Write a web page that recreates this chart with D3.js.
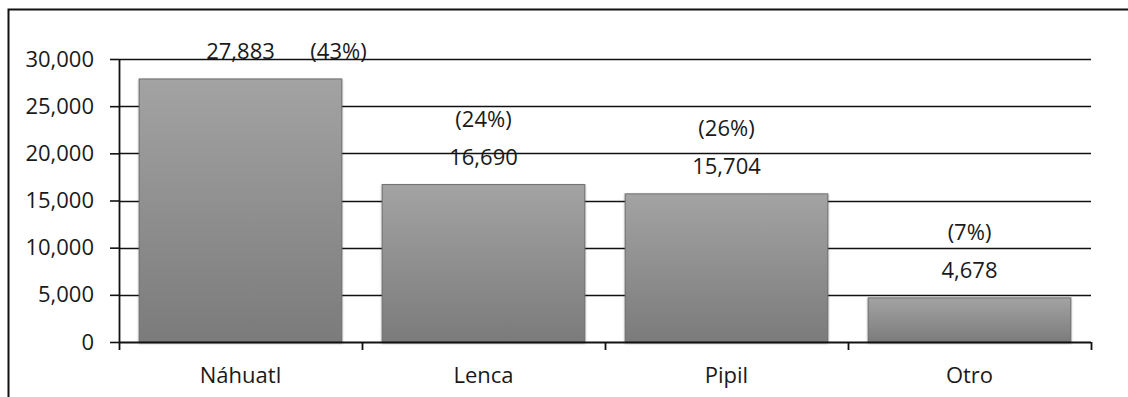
<!DOCTYPE html>
<html>
<head>
<meta charset="utf-8">
<script src="https://cdn.jsdelivr.net/npm/d3@7"></script>
<style>
  html, body { margin: 0; padding: 0; background: #fff; }
  svg { display: block; }
  text { font-family: "Open Sans", "Liberation Sans", sans-serif; fill: #1a1a1a; }
</style>
</head>
<body>
<svg id="chart" width="1128" height="397"></svg>
<script>
// Hablantes por lengua indígena
const categories = ["Náhuatl", "Lenca", "Pipil", "Otro"];
const values = [27883, 16690, 15704, 4678];
const percents = ["(43%)", "(24%)", "(26%)", "(7%)"];
const yTicks = [0, 5000, 10000, 15000, 20000, 25000, 30000];

const svg = d3.select("#chart");
const W = 1128, H = 397;
const m = { left: 119, right: 1091, top: 59, bottom: 342 };

// outer frame: left and top edges
svg.append("path")
  .attr("d", `M8.5,${H} L8.5,9.5 L${W},9.5`)
  .attr("fill", "none").attr("stroke", "#111").attr("stroke-width", 2);

const x = d3.scaleBand().domain(categories).range([m.left, m.right])
  .paddingInner(0.166).paddingOuter(0.083);
const y = d3.scaleLinear().domain([0, 30000]).range([m.bottom, m.top]);

const defs = svg.append("defs");
const grad = defs.append("linearGradient").attr("id", "barFill")
  .attr("x1", 0).attr("y1", 0).attr("x2", 0).attr("y2", 1);
grad.append("stop").attr("offset", "0%").attr("stop-color", "#a3a3a3");
grad.append("stop").attr("offset", "100%").attr("stop-color", "#7b7b7b");
const shadow = defs.append("filter").attr("id", "shade")
  .attr("x", "-5%").attr("y", "-5%").attr("width", "110%").attr("height", "110%");
shadow.append("feDropShadow").attr("dx", 0).attr("dy", 1)
  .attr("stdDeviation", 1.2).attr("flood-color", "#000").attr("flood-opacity", 0.35);

// horizontal gridlines
svg.append("g").selectAll("line").data(yTicks.slice(1)).join("line")
  .attr("x1", m.left).attr("x2", m.right)
  .attr("y1", d => Math.round(y(d)) + 0.5).attr("y2", d => Math.round(y(d)) + 0.5)
  .attr("stroke", "#111").attr("stroke-width", 1.6);

// y axis
const yAxis = svg.append("g").attr("transform", `translate(${m.left},0)`)
  .call(d3.axisLeft(y).tickValues(yTicks).tickSize(9).tickPadding(16)
    .tickFormat(d3.format(",")));
yAxis.selectAll("line").attr("stroke", "#111").attr("stroke-width", 1.6);
yAxis.select(".domain").attr("stroke", "#111").attr("stroke-width", 1.8)
  .attr("d", `M0.5,${m.bottom}V${m.top}`);
yAxis.selectAll("text").attr("font-size", 22).attr("fill", "#1a1a1a")
  .style("font-family", "'Open Sans', sans-serif");

// bars
svg.append("g").selectAll("rect").data(categories).join("rect")
  .attr("x", d => x(d))
  .attr("width", x.bandwidth())
  .attr("y", (d, i) => y(values[i]))
  .attr("height", (d, i) => y(0) - y(values[i]))
  .attr("fill", "url(#barFill)")
  .attr("stroke", "#6e6e6e").attr("stroke-width", 1)
  .attr("filter", "url(#shade)");

// x axis with ticks at category boundaries
const xg = svg.append("g").attr("transform", `translate(0,${m.bottom})`);
xg.append("line").attr("x1", m.left).attr("x2", m.right).attr("y1", 0.5).attr("y2", 0.5)
  .attr("stroke", "#111").attr("stroke-width", 1.8);
const bounds = categories.map(c => x(c) - x.step() * x.paddingInner() / 2)
  .concat([m.right]);
bounds[0] = m.left;
xg.selectAll("line.tick").data(bounds).join("line").attr("class", "tick")
  .attr("x1", d => Math.round(d) + 0.5).attr("x2", d => Math.round(d) + 0.5)
  .attr("y1", 0).attr("y2", 8)
  .attr("stroke", "#111").attr("stroke-width", 1.8);
xg.selectAll("text").data(categories).join("text")
  .attr("x", d => x(d) + x.bandwidth() / 2)
  .attr("y", 41)
  .attr("text-anchor", "middle")
  .attr("font-size", 22)
  .text(d => d);

// value and share labels
const labels = svg.append("g");
categories.forEach((c, i) => {
  const cx = x(c) + x.bandwidth() / 2;
  const top = y(values[i]);
  labels.append("text")
    .attr("x", cx).attr("y", top - 20)
    .attr("text-anchor", "middle").attr("font-size", 22)
    .text(d3.format(",")(values[i]));
  if (i === 0) {
    labels.append("text")
      .attr("x", cx + 98).attr("y", top - 20)
      .attr("text-anchor", "middle").attr("font-size", 22)
      .text(percents[i]);
  } else {
    labels.append("text")
      .attr("x", cx).attr("y", top - 58)
      .attr("text-anchor", "middle").attr("font-size", 22)
      .text(percents[i]);
  }
});
</script>
</body>
</html>
